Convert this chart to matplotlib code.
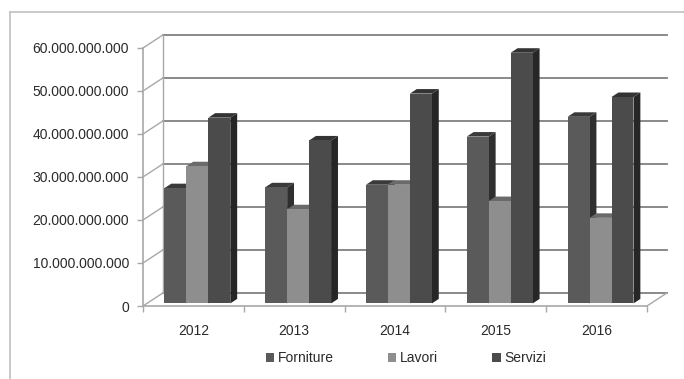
import matplotlib
matplotlib.use("Agg")
import matplotlib.pyplot as plt
from matplotlib.patches import Polygon, Patch
from matplotlib.lines import Line2D
from matplotlib.ticker import FuncFormatter

plt.rcParams['font.family'] = ['Liberation Sans', 'DejaVu Sans']

years = ['2012', '2013', '2014', '2015', '2016']
forniture = [26.8e9, 27.0e9, 27.6e9, 38.8e9, 43.4e9]
lavori = [31.9e9, 21.9e9, 27.6e9, 23.8e9, 19.9e9]
servizi = [43.2e9, 37.9e9, 48.8e9, 58.3e9, 48.0e9]
series = [('Forniture', forniture), ('Lavori', lavori), ('Servizi', servizi)]
yticks = [0, 10e9, 20e9, 30e9, 40e9, 50e9, 60e9]

# face colours: front, side, top
colors = {
    'Forniture': ('#5a5a5a', '#2f2f2f', '#3a3a3a'),
    'Lavori': ('#8e8e8e', '#5a5a5a', '#6a6a6a'),
    'Servizi': ('#4b4b4b', '#262626', '#333333'),
}

fig = plt.figure(figsize=(6.84, 3.79), dpi=100)
ax = fig.add_axes([143 / 684, 1 - 306 / 379, 504 / 684, 258 / 379])
ax.set_xlim(-0.5, 4.5)
ax.set_ylim(0, 60e9)
for s in ax.spines.values():
    s.set_visible(False)

grid_c = '#808080'
DX, DY = 0.195, 3.0e9      # depth of the back wall
bf, bd = 0.2, 0.35         # bar depth start / thickness (fraction of wall)
w = 0.218

# back wall, perspective lines
for v in yticks:
    ax.plot([-0.5 + DX, 4.5 + DX], [v + DY, v + DY], color=grid_c, lw=1.3,
            clip_on=False, zorder=1)
    ax.plot([-0.5, -0.5 + DX], [v, v + DY], color='#a8a8a8', lw=1.0,
            clip_on=False, zorder=1)
ax.plot([-0.5 + DX, -0.5 + DX], [DY, 60e9 + DY], color='#a8a8a8', lw=1.0,
        clip_on=False, zorder=1)
# floor
ax.plot([-0.5, 4.5], [0, 0], color='#a8a8a8', lw=1.2, clip_on=False, zorder=1)
ax.plot([4.5, 4.5 + DX], [0, DY], color='#a8a8a8', lw=1.0, clip_on=False, zorder=1)
ax.plot([-0.5, -0.5], [0, 60e9], color='#a8a8a8', lw=1.2, clip_on=False, zorder=1)

# 3D bars
for i in range(len(years)):
    for j, (name, vals) in enumerate(series):
        front, side, top = colors[name]
        x0 = i + (j - 1.5) * w + bf * DX
        b = bf * DY
        h = vals[i]
        ddx, ddy = bd * DX, bd * DY
        z = 3 + i * 3 + j
        ax.add_patch(Polygon([(x0 + w, b), (x0 + w + ddx, b + ddy),
                              (x0 + w + ddx, b + h + ddy), (x0 + w, b + h)],
                             closed=True, fc=side, ec='none', zorder=z))
        ax.add_patch(Polygon([(x0, b + h), (x0 + ddx, b + h + ddy),
                              (x0 + w + ddx, b + h + ddy), (x0 + w, b + h)],
                             closed=True, fc=top, ec='none', zorder=z))
        ax.bar(x0, h, width=w, bottom=b, align='edge', color=front,
               edgecolor='none', zorder=z)

ax.set_yticks(yticks)
ax.yaxis.set_major_formatter(FuncFormatter(lambda v, p: f"{int(round(v)):,}".replace(',', '.')))
ax.tick_params(axis='y', length=4, width=1, color='#a8a8a8', labelsize=10,
               labelcolor='#2a2a2a', pad=6)
ax.set_xticks([-0.5, 0.5, 1.5, 2.5, 3.5, 4.5], minor=True)
ax.set_xticks(range(len(years)))
ax.set_xticklabels(years)
ax.tick_params(axis='x', which='major', length=0, labelsize=10,
               labelcolor='#2a2a2a', pad=13)
ax.tick_params(axis='x', which='minor', length=4, width=1, color='#a8a8a8')

handles = [Patch(facecolor=colors[n][0], edgecolor='none') for n, _ in series]
fig.legend(handles, [n for n, _ in series], loc='center', ncol=3,
           bbox_to_anchor=(406 / 684, 1 - 358 / 379), frameon=False,
           fontsize=10, handlelength=0.6, handleheight=0.6, handletextpad=0.25,
           columnspacing=3.9, labelcolor='#2a2a2a')

# outer chart frame
fig.add_artist(Line2D([10 / 684, 10 / 684], [0, 1 - 12 / 379], color='#c0c0c0', lw=1.2))
fig.add_artist(Line2D([10 / 684, 1], [1 - 12 / 379, 1 - 12 / 379], color='#c0c0c0', lw=1.2))

fig.savefig('out.png', dpi=100)
